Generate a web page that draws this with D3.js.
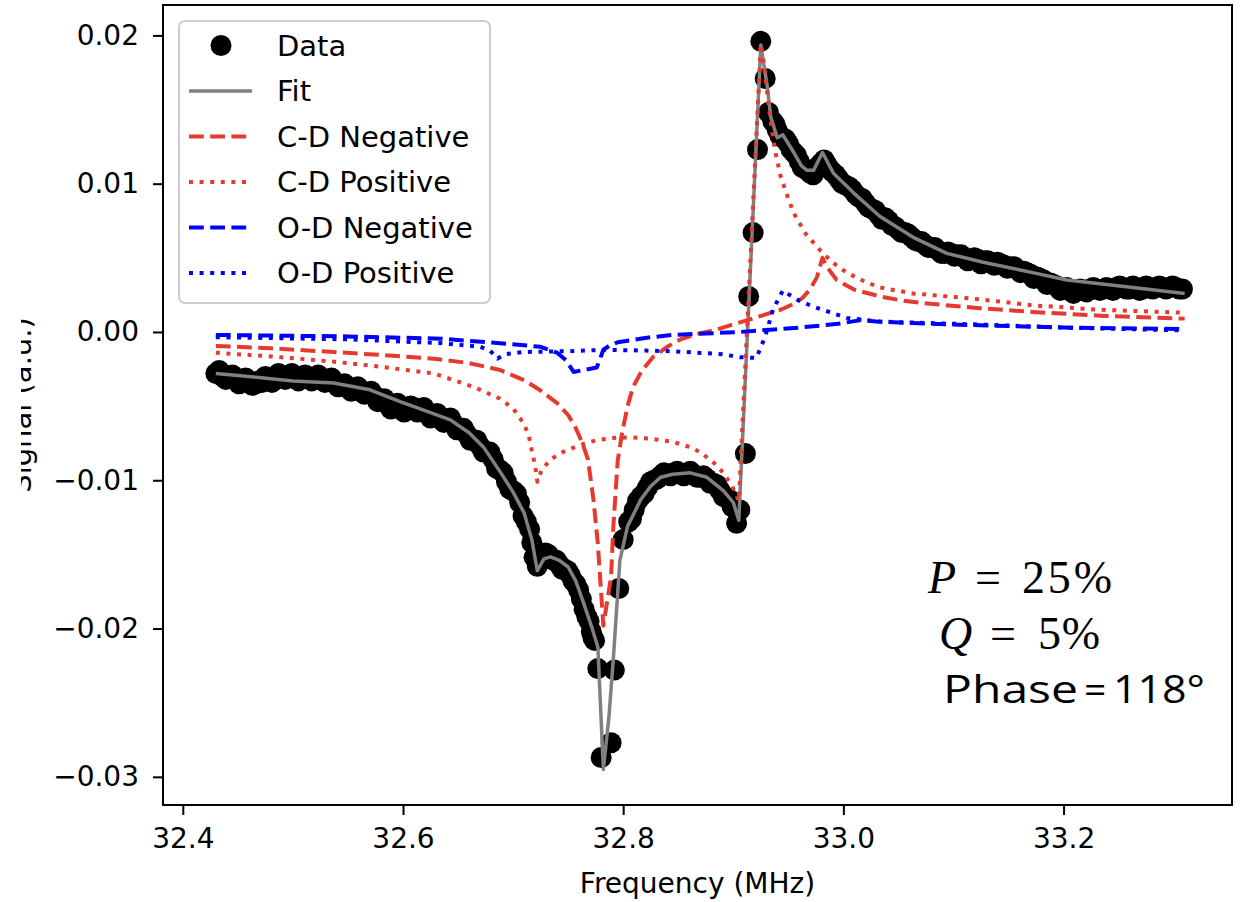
<!DOCTYPE html>
<html>
<head>
<meta charset="utf-8">
<script src="https://cdn.jsdelivr.net/npm/d3@7"></script>
<style>
  body { margin: 0; background: #fff; }
  svg { display: block; font-family: "DejaVu Sans", sans-serif; }
</style>
</head>
<body>
<div id="chart"></div>
<script>
// measured points, [frequency MHz, signal a.u.]
var dataPoints = [
  [32.430,-0.0028],[32.436,-0.0030],[32.442,-0.0031],[32.448,-0.0032],[32.454,-0.0033],[32.460,-0.0034],
  [32.466,-0.0035],[32.472,-0.0034],[32.478,-0.0032],[32.484,-0.0031],[32.490,-0.0030],[32.496,-0.0030],
  [32.502,-0.0030],[32.508,-0.0031],[32.514,-0.0030],[32.520,-0.0031],[32.526,-0.0031],[32.532,-0.0032],
  [32.538,-0.0034],[32.544,-0.0036],[32.550,-0.0038],[32.556,-0.0039],[32.562,-0.0040],[32.568,-0.0041],
  [32.574,-0.0043],[32.580,-0.0046],[32.586,-0.0049],[32.592,-0.0051],[32.598,-0.0052],[32.604,-0.0052],
  [32.610,-0.0051],[32.616,-0.0052],[32.622,-0.0055],[32.628,-0.0057],[32.634,-0.0058],[32.640,-0.0060],
  [32.646,-0.0062],[32.652,-0.0066],[32.658,-0.0069],[32.664,-0.0073],[32.670,-0.0077],[32.676,-0.0081],
  [32.682,-0.0086],[32.688,-0.0093],[32.694,-0.0101],[32.700,-0.0107],[32.706,-0.0115],[32.712,-0.0128],
  [32.717,-0.0142],[32.722,-0.0158],[32.727,-0.0152],[32.732,-0.0150],[32.737,-0.0154],[32.742,-0.0157],
  [32.747,-0.0160],[32.752,-0.0164],[32.757,-0.0170],[32.762,-0.0180],[32.767,-0.0192],[32.771,-0.0202],
  [32.774,-0.0208],[32.777,-0.0227],[32.780,-0.0287],[32.789,-0.0277],[32.792,-0.0228],[32.796,-0.0173],
  [32.800,-0.0140],[32.805,-0.0128],[32.810,-0.0120],[32.816,-0.0111],[32.822,-0.0105],[32.828,-0.0100],
  [32.834,-0.0097],[32.840,-0.0096],[32.846,-0.0095],[32.852,-0.0096],[32.858,-0.0095],[32.864,-0.0096],
  [32.870,-0.0098],[32.876,-0.0099],[32.882,-0.0102],[32.888,-0.0107],[32.894,-0.0112],[32.899,-0.0118],
  [32.903,-0.0129],[32.906,-0.0120],[32.911,-0.0082],[32.914,0.0024],[32.918,0.0067],[32.922,0.0123],
  [32.925,0.0196],[32.929,0.0171],[32.932,0.0148],[32.936,0.0142],[32.940,0.0136],[32.945,0.0131],
  [32.950,0.0127],[32.955,0.0121],[32.960,0.0115],[32.965,0.0110],[32.970,0.0107],[32.975,0.0109],
  [32.980,0.0114],[32.985,0.0113],[32.990,0.0108],[32.996,0.0103],[33.002,0.0099],[33.008,0.0096],
  [33.014,0.0091],[33.020,0.0087],[33.026,0.0083],[33.032,0.0079],[33.038,0.0077],[33.044,0.0072],
  [33.050,0.0069],[33.056,0.0067],[33.062,0.0064],[33.068,0.0061],[33.074,0.0059],[33.080,0.0057],
  [33.086,0.0055],[33.092,0.0053],[33.098,0.0053],[33.104,0.0052],[33.110,0.0050],[33.116,0.0049],
  [33.122,0.0049],[33.128,0.0048],[33.134,0.0047],[33.140,0.0047],[33.146,0.0045],[33.152,0.0044],
  [33.158,0.0042],[33.164,0.0041],[33.170,0.0039],[33.176,0.0037],[33.182,0.0035],[33.188,0.0033],
  [33.194,0.0031],[33.200,0.0029],[33.206,0.0028],[33.212,0.0028],[33.218,0.0028],[33.224,0.0029],
  [33.230,0.0029],[33.236,0.0029],[33.242,0.0029],[33.248,0.0030],[33.254,0.0030],[33.260,0.0029],
  [33.266,0.0030],[33.272,0.0029],[33.278,0.0030],[33.284,0.0030],[33.290,0.0030],[33.296,0.0030],
  [33.302,0.0030],[33.308,0.0029],
  // in-between samples of the dense parts
  [32.433,-0.0026],[32.439,-0.0032],[32.445,-0.0029],[32.451,-0.0035],[32.457,-0.0031],[32.463,-0.0036],
  [32.469,-0.0033],[32.475,-0.0030],[32.481,-0.0034],[32.487,-0.0028],[32.493,-0.0032],[32.499,-0.0028],
  [32.505,-0.0033],[32.511,-0.0029],[32.517,-0.0033],[32.523,-0.0029],[32.529,-0.0034],[32.535,-0.0031],
  [32.541,-0.0037],[32.547,-0.0035],[32.553,-0.0040],[32.559,-0.0037],[32.565,-0.0042],[32.571,-0.0040],
  [32.577,-0.0047],[32.583,-0.0045],[32.589,-0.0052],[32.595,-0.0048],[32.601,-0.0054],[32.607,-0.0050],
  [32.613,-0.0054],[32.619,-0.0051],[32.625,-0.0058],[32.631,-0.0055],[32.637,-0.0061],[32.643,-0.0058],
  [32.649,-0.0066],[32.655,-0.0065],[32.661,-0.0073],[32.667,-0.0073],[32.673,-0.0081],[32.679,-0.0081],
  [32.685,-0.0092],[32.691,-0.0095],[32.697,-0.0106],[32.703,-0.0109],[32.709,-0.0124],[32.715,-0.0133],
  [32.719,-0.0152],[32.7245,-0.0154],[32.7295,-0.0149],[32.7345,-0.0153],[32.7395,-0.0154],[32.7445,-0.0160],
  [32.7495,-0.0161],[32.7545,-0.0168],[32.7595,-0.0174],[32.7645,-0.0187],[32.769,-0.0195],[32.7725,-0.0206],
  [32.8075,-0.0126],[32.813,-0.0114],[32.819,-0.0109],[32.825,-0.0101],[32.831,-0.0099],[32.837,-0.0095],
  [32.843,-0.0097],[32.849,-0.0094],[32.855,-0.0097],[32.861,-0.0094],[32.867,-0.0098],[32.873,-0.0097],
  [32.879,-0.0102],[32.885,-0.0103],[32.891,-0.0111],[32.8965,-0.0113],
  [32.938,0.0140],[32.9425,0.0132],[32.9475,0.0130],[32.9525,0.0123],[32.9575,0.0119],[32.9625,0.0111],
  [32.9675,0.0109],[32.9725,0.0106],[32.9775,0.0112],[32.9825,0.0116],[32.9875,0.0110],[32.993,0.0106],
  [32.999,0.0100],[33.005,0.0098],[33.011,0.0093],[33.017,0.0090],[33.023,0.0084],[33.029,0.0082],
  [33.035,0.0076],[33.041,0.0075],[33.047,0.0071],[33.053,0.0067],[33.059,0.0066],[33.065,0.0062],
  [33.071,0.0061],[33.077,0.0057],[33.083,0.0057],[33.089,0.0053],[33.095,0.0054],[33.101,0.0051],
  [33.107,0.0052],[33.113,0.0048],[33.119,0.0050],[33.125,0.0046],[33.131,0.0048],[33.137,0.0045],
  [33.143,0.0046],[33.149,0.0043],[33.155,0.0044],[33.161,0.0040],[33.167,0.0040],[33.173,0.0036],
  [33.179,0.0036],[33.185,0.0032],[33.191,0.0032],[33.197,0.0028],[33.203,0.0030],[33.209,0.0026],
  [33.215,0.0029],[33.221,0.0027],[33.227,0.0030],[33.233,0.0028],[33.239,0.0030],[33.245,0.0028],
  [33.251,0.0031],[33.257,0.0029],[33.263,0.0031],[33.269,0.0028],[33.275,0.0031],[33.281,0.0029],
  [33.287,0.0031],[33.293,0.0029],[33.299,0.0031],[33.305,0.0029]
];

var fitCurve = [
  [32.430,-0.00280],[32.460,-0.00300],[32.500,-0.00330],[32.537,-0.00344],[32.570,-0.00390],
  [32.598,-0.00472],[32.620,-0.00530],[32.643,-0.00593],[32.660,-0.00680],[32.673,-0.00775],
  [32.688,-0.00940],[32.700,-0.01080],[32.710,-0.01220],[32.717,-0.01400],[32.722,-0.01610],
  [32.728,-0.01530],[32.734,-0.01517],[32.742,-0.01540],[32.750,-0.01585],[32.757,-0.01680],
  [32.764,-0.01827],[32.771,-0.01980],[32.777,-0.02124],[32.782,-0.02950],[32.787,-0.02600],
  [32.791,-0.02210],[32.797,-0.01540],[32.804,-0.01310],[32.816,-0.01130],[32.825,-0.01040],
  [32.834,-0.00980],[32.845,-0.00960],[32.861,-0.00950],[32.876,-0.00980],[32.891,-0.01070],
  [32.900,-0.01150],[32.905,-0.01270],[32.925,0.01935],[32.931,0.01650],[32.934,0.01450],
  [32.940,0.01310],[32.945,0.01330],[32.955,0.01210],[32.962,0.01120],[32.967,0.01090],
  [32.973,0.01090],[32.981,0.01210],[32.991,0.01070],[33.009,0.00940],[33.033,0.00780],
  [33.063,0.00640],[33.094,0.00530],[33.127,0.00470],[33.172,0.00400],[33.203,0.00350],
  [33.263,0.00300],[33.310,0.00260]
];

var cdNegative = [
  [32.430,-0.00094],[32.480,-0.00110],[32.537,-0.00135],[32.580,-0.00155],[32.628,-0.00180],
  [32.660,-0.00210],[32.688,-0.00256],[32.710,-0.00325],[32.725,-0.00395],[32.740,-0.00480],
  [32.750,-0.00560],[32.757,-0.00650],[32.763,-0.00750],[32.768,-0.00860],[32.773,-0.01130],
  [32.777,-0.01430],[32.780,-0.01760],[32.782,-0.01980],[32.789,-0.01650],[32.791,-0.01320],
  [32.795,-0.00870],[32.799,-0.00680],[32.804,-0.00500],[32.809,-0.00370],[32.817,-0.00260],
  [32.827,-0.00170],[32.840,-0.00100],[32.852,-0.00050],[32.866,-0.00015],[32.882,0.00010],
  [32.897,0.00045],[32.913,0.00080],[32.928,0.00115],[32.943,0.00150],[32.955,0.00190],
  [32.963,0.00230],[32.970,0.00290],[32.976,0.00370],[32.981,0.00500],[32.986,0.00430],
  [32.994,0.00350],[33.010,0.00285],[33.033,0.00240],[33.055,0.00210],[33.079,0.00190],
  [33.124,0.00160],[33.172,0.00135],[33.233,0.00110],[33.310,0.00090]
];

var cdPositive = [
  [32.430,-0.00140],[32.480,-0.00165],[32.537,-0.00200],[32.580,-0.00235],[32.628,-0.00280],
  [32.664,-0.00370],[32.688,-0.00450],[32.700,-0.00515],[32.709,-0.00610],[32.714,-0.00690],
  [32.717,-0.00800],[32.720,-0.00900],[32.722,-0.01010],[32.726,-0.00930],[32.734,-0.00860],
  [32.745,-0.00810],[32.755,-0.00780],[32.766,-0.00750],[32.776,-0.00730],[32.790,-0.00715],
  [32.806,-0.00710],[32.825,-0.00720],[32.845,-0.00740],[32.860,-0.00775],[32.870,-0.00810],
  [32.882,-0.00880],[32.891,-0.00950],[32.899,-0.01040],[32.905,-0.01140],[32.925,0.01940],
  [32.928,0.01800],[32.931,0.01600],[32.934,0.01420],[32.938,0.01220],[32.943,0.01050],
  [32.949,0.00920],[32.955,0.00800],[32.966,0.00660],[32.979,0.00550],[32.990,0.00470],
  [33.003,0.00400],[33.018,0.00345],[33.033,0.00300],[33.063,0.00260],[33.094,0.00240],
  [33.124,0.00220],[33.172,0.00180],[33.233,0.00150],[33.310,0.00130]
];

var odNegative = [
  [32.430,-0.00020],[32.550,-0.00030],[32.634,-0.00045],[32.695,-0.00080],[32.725,-0.00100],
  [32.740,-0.00140],[32.748,-0.00190],[32.755,-0.00270],[32.765,-0.00255],[32.776,-0.00240],
  [32.782,-0.00120],[32.788,-0.00090],[32.795,-0.00070],[32.820,-0.00040],[32.845,-0.00020],
  [32.906,0.00000],[32.961,0.00030],[32.995,0.00055],[33.016,0.00080],[33.030,0.00070],
  [33.063,0.00060],[33.124,0.00045],[33.200,0.00030],[33.310,0.00020]
];

var odPositive = [
  [32.430,-0.00035],[32.550,-0.00050],[32.634,-0.00075],[32.670,-0.00100],[32.679,-0.00125],
  [32.686,-0.00180],[32.692,-0.00150],[32.709,-0.00135],[32.749,-0.00130],[32.785,-0.00120],
  [32.845,-0.00130],[32.890,-0.00150],[32.906,-0.00170],[32.921,-0.00175],[32.929,-0.00030],
  [32.936,0.00150],[32.945,0.00280],[32.950,0.00255],[32.960,0.00210],[32.973,0.00170],
  [33.003,0.00095],[33.033,0.00070],[33.124,0.00050],[33.200,0.00030],[33.310,0.00010]
];

var xTicks = [32.4, 32.6, 32.8, 33.0, 33.2];
var yTicks = [-0.03, -0.02, -0.01, 0.00, 0.01, 0.02];
var legendLabels = ["Data", "Fit", "C-D Negative", "C-D Positive", "O-D Negative", "O-D Positive"];

var svgWidth = 1248;
var svgHeight = 902;

var margin = {
  top: 5,
  right: 16,
  bottom: 97,
  left: 163
};

var width = svgWidth - margin.left - margin.right;
var height = svgHeight - margin.top - margin.bottom;

var red = "#e63a2e";
var blue = "#0000ff";
var dashed = "14.8,6.4";
var dotted = "4,6.6";

var svg = d3.select("#chart")
  .append("svg")
  .attr("width", svgWidth)
  .attr("height", svgHeight);

var chartGroup = svg.append("g")
  .attr("transform", `translate(${margin.left}, ${margin.top})`);

var xLinearScale = d3.scaleLinear()
  .domain([32.382, 33.353])
  .range([0, width]);

var yLinearScale = d3.scaleLinear()
  .domain([-0.0319, 0.02205])
  .range([height, 0]);

var line = d3.line()
  .x(d => xLinearScale(d[0]))
  .y(d => yLinearScale(d[1]));

// axes
var bottomAxis = d3.axisBottom(xLinearScale)
  .tickValues(xTicks)
  .tickFormat(d3.format(".1f"))
  .tickSize(10)
  .tickPadding(13);

var leftAxis = d3.axisLeft(yLinearScale)
  .tickValues(yTicks)
  .tickFormat(d3.format(".2f"))
  .tickSize(10)
  .tickPadding(14);

var xAxis = chartGroup.append("g")
  .attr("transform", `translate(0, ${height})`)
  .call(bottomAxis);

var yAxis = chartGroup.append("g")
  .call(leftAxis);

[xAxis, yAxis].forEach(function(ax) {
  ax.select(".domain").remove();
  ax.selectAll(".tick line").attr("stroke", "#000").attr("stroke-width", 2);
  ax.selectAll(".tick text")
    .attr("fill", "#000")
    .style("font-size", "28px")
    .style("font-family", "DejaVu Sans");
});

// data markers
chartGroup.append("g")
  .selectAll("circle")
  .data(dataPoints)
  .enter()
  .append("circle")
  .attr("cx", d => xLinearScale(d[0]))
  .attr("cy", d => yLinearScale(d[1]))
  .attr("r", 10.5)
  .attr("fill", "#000");

var seriesList = [
  {name: "Fit", values: fitCurve, color: "#808080", dash: null},
  {name: "C-D Negative", values: cdNegative, color: red, dash: dashed},
  {name: "C-D Positive", values: cdPositive, color: red, dash: dotted},
  {name: "O-D Negative", values: odNegative, color: blue, dash: dashed},
  {name: "O-D Positive", values: odPositive, color: blue, dash: dotted}
];

seriesList.forEach(function(s) {
  chartGroup.append("path")
    .datum(s.values)
    .attr("d", line)
    .attr("fill", "none")
    .attr("stroke", s.color)
    .attr("stroke-width", s.dash ? 4 : 3.5)
    .attr("stroke-dasharray", s.dash)
    .attr("stroke-linejoin", "round");
});

// frame
chartGroup.append("rect")
  .attr("width", width)
  .attr("height", height)
  .attr("fill", "none")
  .attr("stroke", "#000")
  .attr("stroke-width", 2);

// axis labels (y label is cut off at the left edge in the original)
svg.append("text")
  .attr("x", margin.left + width / 2)
  .attr("y", 893)
  .attr("text-anchor", "middle")
  .style("font-size", "28px")
  .text("Frequency (MHz)");

svg.append("text")
  .attr("transform", "translate(31, 405) rotate(-90)")
  .attr("text-anchor", "middle")
  .style("font-size", "29px")
  .text("Signal (a.u.)");

svg.append("rect")
  .attr("x", 0).attr("y", 0)
  .attr("width", 21).attr("height", svgHeight)
  .attr("fill", "#fff");

// legend
var legend = svg.append("g");

legend.append("rect")
  .attr("x", 179).attr("y", 21)
  .attr("width", 311).attr("height", 282)
  .attr("rx", 6)
  .attr("fill", "#fff")
  .attr("fill-opacity", 0.8)
  .attr("stroke", "#cccccc")
  .attr("stroke-width", 2);

legendLabels.forEach(function(label, i) {
  var cy = 45.5 + i * 45.5;
  if (i === 0) {
    legend.append("circle")
      .attr("cx", 221).attr("cy", cy)
      .attr("r", 10.5)
      .attr("fill", "#000");
  } else {
    var s = seriesList[i - 1];
    legend.append("line")
      .attr("x1", 189).attr("x2", 252)
      .attr("y1", cy).attr("y2", cy)
      .attr("stroke", s.color)
      .attr("stroke-width", s.dash ? 4 : 3.5)
      .attr("stroke-dasharray", s.dash);
  }
  legend.append("text")
    .attr("x", 277)
    .attr("y", cy)
    .attr("dy", "0.35em")
    .style("font-size", "29px")
    .text(label);
});

// fit parameters
var note = svg.append("g").style("font-family", "Liberation Serif, serif").style("font-size", "46px");

note.append("text").attr("x", 928).attr("y", 593).style("font-style", "italic").text("P");
note.append("text").attr("x", 975).attr("y", 593).text("=");
note.append("text").attr("x", 1022).attr("y", 593).attr("textLength", 90).text("25%");

note.append("text").attr("x", 939).attr("y", 649).style("font-style", "italic").text("Q");
note.append("text").attr("x", 990).attr("y", 649).text("=");
note.append("text").attr("x", 1038).attr("y", 649).attr("textLength", 62).text("5%");

var phase = svg.append("g").style("font-family", "Open Sans, sans-serif").style("font-size", "39px");
phase.append("text").attr("x", 943).attr("y", 703)
  .attr("textLength", 135).attr("lengthAdjust", "spacingAndGlyphs").text("Phase");
phase.append("text").attr("x", 1084).attr("y", 703).text("=");
phase.append("text").attr("x", 1113).attr("y", 703)
  .attr("textLength", 92).attr("lengthAdjust", "spacingAndGlyphs").text("118°");
</script>
</body>
</html>
